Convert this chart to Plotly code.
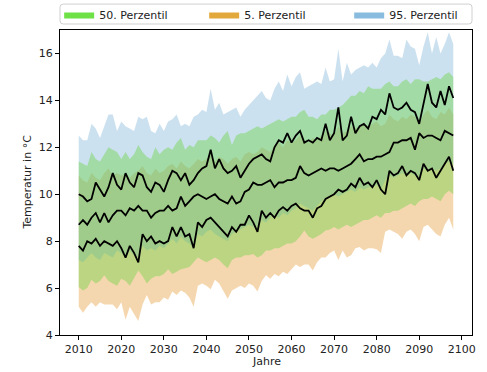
import plotly.graph_objects as go

years = list(range(2010, 2099))

# black lines (mean of each percentile)
p95_mean = [10.0, 9.9, 9.7, 9.8, 10.5, 10.2, 9.9, 10.3, 10.9, 10.4,
            10.2, 10.9, 10.5, 10.3, 10.9, 10.8, 10.3, 10.1, 10.5, 10.4,
            10.1, 10.6, 11.0, 10.9, 10.6, 10.9, 10.4, 10.6, 10.9, 11.1,
            11.2, 11.9, 11.1, 11.5, 11.1, 10.9, 11.0, 11.2, 10.7, 11.0,
            11.3, 11.5, 11.6, 11.7, 11.5, 11.4, 12.0, 12.3, 12.2, 12.6,
            12.2, 12.5, 12.7, 12.2, 12.3, 12.2, 12.4, 12.3, 13.0, 12.3,
            12.6, 13.7, 12.3, 12.5, 13.3, 12.6, 12.9, 13.0, 12.8, 13.3,
            13.2, 13.6, 13.4, 14.3, 13.7, 13.6, 13.7, 13.9, 13.6, 13.5,
            13.0, 13.8, 14.7, 13.9, 13.7, 14.4, 13.8, 14.6, 14.1]
p50_mean = [8.7, 8.9, 8.7, 9.0, 9.2, 8.8, 9.2, 8.8, 9.1, 9.3,
            9.3, 9.1, 9.4, 9.3, 9.5, 9.3, 9.3, 9.0, 9.2, 9.3,
            9.3, 9.5, 9.3, 9.4, 9.9, 9.5, 9.7, 9.9, 10.0, 9.9,
            9.8, 9.9, 10.0, 9.8, 9.7, 9.6, 9.9, 9.6, 9.7, 10.1,
            10.2, 10.5, 10.4, 10.4, 10.5, 10.6, 10.3, 10.5, 10.5, 10.6,
            10.6, 10.7, 11.2, 10.9, 10.8, 10.9, 11.0, 11.1, 11.0, 11.1,
            11.1, 11.0, 11.1, 11.2, 11.3, 11.5, 11.7, 11.4, 11.5, 11.5,
            11.6, 11.6, 11.7, 11.8, 12.2, 12.2, 12.3, 12.3, 12.4, 11.9,
            12.6, 12.4, 12.5, 12.5, 12.4, 12.3, 12.7, 12.6, 12.5]
p5_mean = [7.8, 7.6, 8.0, 7.9, 8.1, 7.8, 8.0, 7.9, 7.8, 8.0,
           7.7, 7.3, 7.8, 7.5, 7.1, 8.3, 8.0, 8.2, 7.9, 8.0,
           7.9, 8.0, 8.6, 8.2, 8.6, 8.2, 8.3, 7.7, 8.8, 8.6,
           8.9, 9.0, 8.8, 8.6, 8.4, 8.2, 8.6, 8.4, 8.7, 8.7,
           9.1, 8.8, 8.4, 9.3, 9.0, 9.2, 9.0, 9.3, 9.45, 9.3,
           9.5, 9.6, 9.4, 9.3, 9.3, 9.0, 9.4, 9.5, 9.8, 9.9,
           10.0, 10.2, 10.1, 10.2, 10.45, 10.3, 10.7, 10.4, 10.5, 10.3,
           10.6, 10.2, 10.0, 11.0, 10.8, 10.9, 11.2, 10.8, 11.0, 10.9,
           10.6, 11.3, 11.0, 11.1, 10.7, 11.0, 11.3, 11.6, 11.0]

# band edges
p95_low = [7.2, 7.1, 7.3, 7.5, 7.3, 7.2, 7.5, 7.4, 7.3, 7.6,
           7.5, 7.3, 7.6, 7.4, 7.3, 7.8, 7.6, 7.7, 7.6, 7.8,
           7.7, 7.9, 8.1, 7.9, 8.2, 8.0, 7.9, 7.7, 8.3, 8.2,
           8.4, 8.5, 8.3, 8.2, 8.1, 8.0, 8.3, 8.4, 8.5, 8.6,
           8.7, 8.6, 8.5, 8.9, 8.8, 9.0, 9.1, 9.0, 9.2, 9.1,
           9.3, 9.4, 9.6, 9.5, 9.4, 9.3, 9.5, 9.7, 9.8, 9.9,
           10.0, 9.9, 10.0, 10.1, 10.2, 10.1, 10.3, 10.2, 10.3, 10.3,
           10.4, 10.2, 10.6, 10.8, 10.7, 10.8, 10.9, 10.8, 10.9, 10.8,
           10.7, 11.1, 11.0, 11.1, 11.0, 11.1, 11.3, 11.4, 11.3]
p95_high = [12.5, 12.3, 12.3, 13.0, 12.8, 12.4, 12.9, 13.4, 13.4, 12.7,
            13.1, 12.9, 12.8, 12.7, 13.3, 13.2, 13.3, 12.7, 12.6, 13.0,
            12.7, 13.1, 13.2, 13.4, 12.9, 13.0, 12.9, 13.3, 13.4, 13.6,
            13.5, 14.5, 13.6, 13.9, 13.4, 13.5, 13.6, 13.7, 13.3, 13.6,
            13.8, 14.0, 14.2, 14.4, 14.1, 14.0, 14.5, 14.8, 14.4, 15.1,
            14.6, 15.0, 15.2, 14.5, 14.6, 14.7, 14.8, 14.7, 15.4, 14.8,
            14.9, 16.2, 14.8, 15.6, 15.1, 15.3, 15.4, 15.5, 15.4, 15.6,
            15.4, 15.8, 16.0, 16.6, 15.9, 15.9, 15.8, 16.6, 16.3, 16.2,
            15.5, 16.3, 16.9, 16.0, 16.7, 16.0, 16.4, 16.9, 16.4]
p50_low = [6.05, 5.9, 6.0, 6.35, 6.2, 6.3, 6.55, 6.3, 6.2, 6.1,
           6.4, 6.3, 6.1, 6.4, 6.75, 6.5, 6.2, 6.4, 6.5, 6.5,
           6.6, 6.8, 6.6, 6.7, 6.8, 6.85, 6.9, 7.1, 7.3, 7.2,
           7.1, 7.2, 7.3, 7.2, 7.0, 6.85, 7.2, 7.3, 7.3, 7.4,
           7.4, 7.45, 7.3, 7.4, 7.6, 7.6, 7.7, 7.7, 7.8, 7.9,
           7.9, 8.0, 8.2, 8.45, 8.2, 8.1, 8.2, 8.3, 8.45, 8.5,
           8.6, 8.5, 8.6, 8.7, 8.6, 8.7, 8.8, 8.9, 8.9, 9.0,
           9.1, 9.0, 9.2, 9.2, 9.3, 9.3, 9.4, 9.5, 9.6, 9.5,
           9.7, 9.8, 9.8, 9.9, 9.8, 9.7, 10.0, 10.15, 10.0]
p50_high = [11.4, 11.3, 11.2, 11.8, 11.5, 11.4, 11.7, 12.0, 11.9, 11.8,
            11.5, 11.8, 11.5, 11.7, 12.1, 11.8, 11.6, 11.5, 12.0, 11.7,
            11.9, 12.0, 11.9, 12.2, 12.4, 11.9, 12.1, 12.0, 12.3, 12.3,
            12.3, 12.5, 12.4, 12.2, 12.5, 12.7, 12.1, 12.5, 12.6, 12.6,
            12.7, 12.8, 12.9, 12.8, 12.9, 13.0, 13.1, 13.2, 13.1, 13.2,
            13.3, 13.3, 13.5, 13.6, 13.3, 13.3, 13.2, 13.4, 13.4, 13.6,
            13.6, 13.7, 13.8, 14.0, 14.2, 14.2, 14.4, 14.3, 14.6, 14.5,
            14.5, 14.5, 14.7, 14.8, 14.6, 14.6, 14.8, 14.9, 14.7, 14.9,
            14.9, 14.8, 14.8, 14.9, 15.0, 14.9, 15.1, 15.2, 15.0]
p5_low = [5.2, 4.95, 5.2, 5.4, 5.2, 5.4, 5.3, 5.3, 5.3, 5.1,
          5.4, 4.65, 5.2, 4.9, 4.6, 5.3, 5.7, 5.3, 5.4, 5.4,
          5.6, 5.5, 5.85, 5.7, 5.9, 5.8, 5.6, 5.2, 6.1, 6.2,
          6.1, 5.95, 6.35, 6.2, 5.9, 5.55, 5.9, 6.0, 6.1, 6.0,
          6.2, 6.1, 5.85, 6.3, 6.55, 6.4, 6.6, 6.5, 6.7, 6.6,
          6.8, 7.0, 6.9, 7.0, 7.0, 6.75, 7.1, 7.3, 7.3, 7.5,
          7.6, 7.2, 7.6, 7.3, 7.4, 7.7, 7.75, 7.6, 7.7, 7.7,
          7.65, 7.5, 8.4, 8.5, 8.4, 8.3, 8.1, 8.4, 8.5, 8.3,
          8.0, 8.6, 8.7, 8.5, 8.3, 8.2, 8.7, 9.0, 8.5]
p5_high = [10.8, 10.6, 10.5, 10.9, 10.7, 10.6, 10.9, 11.1, 10.8, 10.9,
           10.8, 10.9, 10.7, 10.9, 11.0, 11.2, 10.9, 10.8, 11.1, 10.9,
           11.0, 11.2, 11.3, 11.1, 11.4, 11.2, 11.1, 11.3, 11.5, 11.4,
           11.5, 11.7, 11.4, 11.6, 11.5, 11.3, 11.5, 11.6, 11.4, 11.7,
           11.8, 11.7, 11.8, 12.0, 11.9, 11.8, 12.1, 12.2, 12.0, 12.3,
           12.2, 12.3, 12.5, 12.3, 12.2, 12.4, 12.3, 12.5, 12.7, 12.6,
           12.5, 12.9, 12.6, 12.7, 12.9, 12.8, 12.9, 13.0, 12.9, 13.0,
           13.1, 12.9, 13.0, 13.4, 13.2, 13.1, 13.3, 13.2, 13.4, 13.3,
           13.0, 13.4, 13.6, 13.3, 13.2, 13.5, 13.4, 13.7, 13.4]

series_names = ["50. Perzentil", "5. Perzentil", "95. Perzentil"]
x_ticks = list(range(2010, 2101, 10))
y_ticks = list(range(4, 17, 2))

legend_colors = {"50. Perzentil": "#6ee146", "5. Perzentil": "#e2a83c",
                 "95. Perzentil": "#88bbdd"}
fill_colors = {"5. Perzentil": "rgba(230,155,55,0.40)",
               "95. Perzentil": "rgba(120,175,214,0.38)",
               "50. Perzentil": "rgba(105,212,65,0.41)"}
bands = {"50. Perzentil": (p50_low, p50_high),
         "5. Perzentil": (p5_low, p5_high),
         "95. Perzentil": (p95_low, p95_high)}

fig = go.Figure()
# draw order: orange, blue, green on top
for name in ["5. Perzentil", "95. Perzentil", "50. Perzentil"]:
    lo, hi = bands[name]
    fig.add_trace(go.Scatter(x=years, y=lo, mode="lines", line=dict(width=0),
                             showlegend=False, hoverinfo="skip"))
    fig.add_trace(go.Scatter(x=years, y=hi, mode="lines", line=dict(width=0),
                             fill="tonexty", fillcolor=fill_colors[name],
                             showlegend=False, hoverinfo="skip"))

for ys in (p95_mean, p50_mean, p5_mean):
    fig.add_trace(go.Scatter(x=years, y=ys, mode="lines",
                             line=dict(color="black", width=1.8),
                             showlegend=False))

for name in series_names:
    lc = legend_colors[name]
    fig.add_trace(go.Scatter(x=[None], y=[None], mode="lines", name=name,
                             fill="toself", fillcolor=lc,
                             line=dict(width=0, color=lc)))

axis_common = dict(showline=True, linecolor="black", linewidth=1, mirror=True,
                   ticks="outside", ticklen=4, tickcolor="black",
                   showgrid=False, zeroline=False, automargin=False,
                   tickfont=dict(family="DejaVu Sans", size=11, color="#222"))

# rounded legend frame (paper coords): x 0..1, y 1.0197..1.085
fx0, fx1, fy0, fy1 = 0.0, 1.0, 1.0197, 1.085
rx, ry = 0.008, 0.01
frame_path = (f"M {fx0+rx},{fy0} L {fx1-rx},{fy0} Q {fx1},{fy0} {fx1},{fy0+ry} "
              f"L {fx1},{fy1-ry} Q {fx1},{fy1} {fx1-rx},{fy1} "
              f"L {fx0+rx},{fy1} Q {fx0},{fy1} {fx0},{fy1-ry} "
              f"L {fx0},{fy0+ry} Q {fx0},{fy0} {fx0+rx},{fy0} Z")

fig.update_layout(
    width=487, height=372,
    margin=dict(l=60, r=15, t=30, b=37, autoexpand=False),
    paper_bgcolor="white", plot_bgcolor="white",
    font=dict(family="DejaVu Sans", size=11, color="#222"),
    xaxis=dict(range=[2005.6, 2102.4], tickvals=x_ticks, **axis_common),
    yaxis=dict(range=[4, 17], tickvals=y_ticks, **axis_common),
    legend=dict(orientation="h", x=-0.002, xanchor="left", y=1.098, yanchor="top",
                borderwidth=0, bgcolor="rgba(0,0,0,0)", traceorder="normal",
                entrywidth=100, entrywidthmode="pixels",
                font=dict(family="DejaVu Sans", size=11, color="#222")),
    shapes=[dict(type="path", path=frame_path, xref="paper", yref="paper",
                 line=dict(color="#d0d0d0", width=1), fillcolor="rgba(0,0,0,0)")],
    annotations=[
        dict(text="Jahre", xref="paper", yref="paper", x=0.5, y=-0.086,
             xanchor="center", yanchor="middle", showarrow=False,
             font=dict(size=11, color="#222")),
        dict(text="Temperatur in °C", xref="paper", yref="paper", x=-0.08, y=0.5,
             xanchor="center", yanchor="middle", textangle=-90, showarrow=False,
             font=dict(size=11, color="#222")),
    ],
)

fig.write_html("out.html", config={"displayModeBar": False},
               post_script="document.body.style.margin='0px';")
